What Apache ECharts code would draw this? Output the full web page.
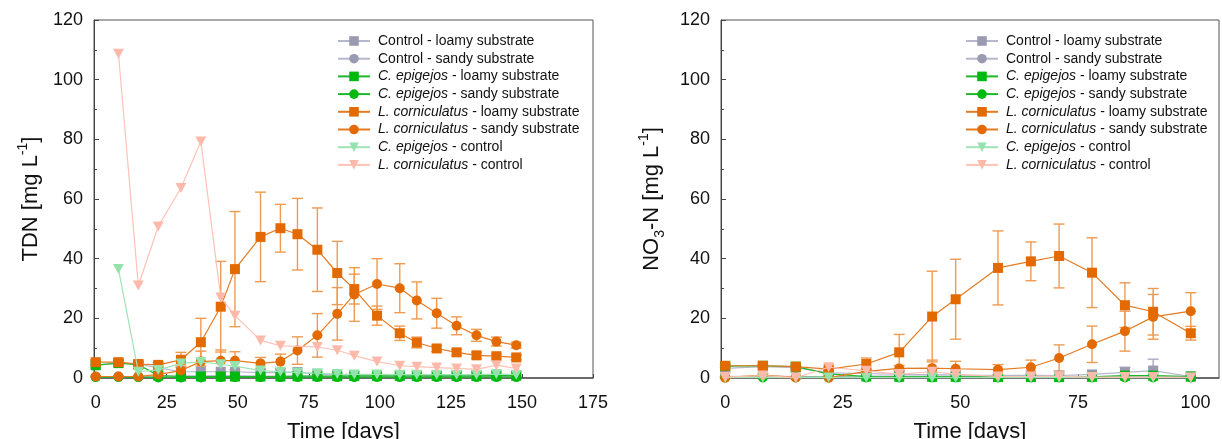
<!DOCTYPE html>
<html>
<head>
<meta charset="utf-8">
<script src="https://cdn.jsdelivr.net/npm/echarts@6/dist/echarts.min.js"></script>
<style>
html,body{margin:0;padding:0;background:#fff;}
#c{width:1222px;height:439px;}
</style>
</head>
<body>
<div id="c"></div>
<script>
// ---------- DATA ----------
const seriesNames = [
  'Control - loamy substrate',
  'Control - sandy substrate',
  'C. epigejos - loamy substrate',
  'C. epigejos - sandy substrate',
  'L. corniculatus - loamy substrate',
  'L. corniculatus - sandy substrate',
  'C. epigejos - control',
  'L. corniculatus - control'
];
const xTicksTDN = [0, 25, 50, 75, 100, 125, 150, 175];
const xTicksNO3 = [0, 25, 50, 75, 100];
const yTicks = [0, 20, 40, 60, 80, 100, 120];

// TDN (left panel)
const daysTDN = [0, 8, 15, 22, 30, 37, 44, 49, 58, 65, 71, 78, 85, 91, 99, 107, 113, 120, 127, 134, 141, 148];
const tdnCtrlLoamy = [4.3, 5.0, 4.6, 3.5, 2.1, 2.1, 2.1, 2.1, 1.8, 1.8, 2.0, 1.3, 1.1, 1.0, 1.0, 1.0, 0.9, 0.9, 0.9, 0.9, 1.0, 0.9];
const tdnCtrlSandy = [0.4, 0.5, 0.5, 0.6, 0.7, 0.7, 0.8, 0.8, 0.6, 0.6, 0.6, 0.6, 0.5, 0.5, 0.5, 0.5, 0.5, 0.5, 0.5, 0.5, 0.5, 0.5];
const tdnCepLoamy = [4.3, 5.0, 4.5, 0.8, 0.5, 0.5, 0.5, 0.5, 0.5, 0.5, 0.6, 0.6, 0.6, 0.7, 0.7, 0.7, 0.7, 0.7, 0.7, 0.7, 0.8, 0.8];
const tdnCepSandy = [0.3, 0.3, 0.3, 0.2, 0.2, 0.2, 0.3, 0.3, 0.3, 0.3, 0.3, 0.3, 0.3, 0.3, 0.3, 0.3, 0.3, 0.3, 0.3, 0.3, 0.3, 0.3];
const tdnLcLoamy = [5.3, 5.3, 4.7, 4.4, 6.1, 12.0, 23.9, 36.5, 47.3, 50.2, 48.2, 43.0, 35.2, 29.8, 20.9, 15.0, 11.9, 9.9, 8.6, 7.6, 7.3, 6.9];
const tdnLcLoamyErr = [0.8, 0.5, 0.6, 0.8, 2.5, 8.0, 15.2, 19.3, 15.0, 8.0, 12.0, 14.0, 10.6, 5.0, 3.2, 2.4, 1.8, 1.0, 1.0, 1.0, 0.8, 0.8];
const tdnLcSandy = [0.5, 0.5, 0.5, 1.2, 2.5, 5.5, 5.8, 5.8, 4.9, 5.5, 9.2, 14.3, 21.5, 28.0, 31.5, 30.1, 26.0, 21.7, 17.5, 14.3, 12.2, 11.0];
const tdnLcSandyErr = [0.2, 0.2, 0.2, 0.5, 1.5, 3.5, 3.6, 3.0, 2.0, 2.5, 4.6, 7.3, 8.8, 9.0, 8.5, 8.2, 6.2, 5.0, 3.0, 2.0, 1.5, 1.0];
const tdnCepControl = [null, 36.5, 2.1, 2.7, 4.9, 5.4, 4.6, 4.0, 2.5, 2.1, 1.8, 1.6, 1.3, 1.2, 1.2, 1.1, 1.1, 1.1, 1.1, 1.1, 1.3, 1.1];
const tdnLcControl = [null, 108.7, 31.0, 50.8, 63.7, 79.3, 27.0, 20.9, 12.6, 10.8, null, 10.4, 9.3, 7.5, 5.5, 4.1, 3.8, 3.5, 3.2, 2.9, 4.3, 3.2];

// NO3-N (right panel)
const daysNO3 = [0, 8, 15, 22, 30, 37, 44, 49, 58, 65, 71, 78, 85, 91, 99];
const no3CtrlLoamy = [3.2, 3.8, 3.5, 1.7, 1.5, 1.2, 1.1, 1.0, 0.9, 0.9, 0.8, 1.2, 1.9, 2.5, 0.5];
const no3CtrlLoamyErr = [0, 0, 0, 0, 0, 0, 0, 0, 0, 0, 0, 0, 1.7, 3.8, 0];
const no3CtrlSandy = [0.5, 0.6, 0.5, 0.5, 0.6, 0.6, 0.6, 0.6, 0.5, 0.5, 0.5, 0.5, 0.6, 0.6, 0.5];
const no3CepLoamy = [4.0, 4.1, 3.8, 1.4, 0.5, 0.4, 0.4, 0.4, 0.3, 0.3, 0.3, 0.4, 0.8, 0.8, 0.5];
const no3CepSandy = [0.2, 0.2, 0.2, 0.2, 0.2, 0.2, 0.2, 0.2, 0.2, 0.2, 0.2, 0.2, 0.2, 0.2, 0.2];
const no3LcLoamy = [4.1, 4.1, 3.8, 3.0, 4.7, 8.6, 20.6, 26.4, 36.9, 39.1, 40.9, 35.3, 24.4, 22.2, 15.0];
const no3LcLoamyErr = [0.5, 0.4, 0.4, 0.5, 2.0, 6.0, 15.2, 13.4, 12.4, 6.5, 10.7, 11.7, 7.5, 7.8, 2.3];
const no3LcSandy = [0.1, 1.0, 0.2, 0.1, 2.2, 3.2, 3.3, 3.1, 2.8, 3.6, 6.7, 11.3, 15.7, 20.5, 22.4];
const no3LcSandyErr = [0.2, 0.5, 0.2, 0.2, 0.8, 1.0, 2.7, 2.5, 1.7, 2.4, 4.4, 6.1, 6.7, 7.5, 6.2];
const no3CepControl = [0.1, 0.1, 0.1, 0.2, 0.1, 0.1, 0.1, 0.1, 0.1, 0.1, 0.1, 0.1, 0.1, 0.1, 0.1];
const no3LcControl = [0.3, 0.8, 0.1, 3.6, 2.4, 1.3, 2.1, 1.3, 0.5, 0.5, 0.6, 0.3, 0.3, 0.3, 0.2];

// ---------- STYLE ----------
const FONT = 'Liberation Sans, Arial, sans-serif';
const styles = [
  {sym: 'rect', mark: '#9a9ab2', line: '#b6b6cc'},
  {sym: 'circle', mark: '#9a9ab2', line: '#b6b6cc'},
  {sym: 'rect', mark: '#00b90f', line: '#1fb72a'},
  {sym: 'circle', mark: '#00b90f', line: '#1fb72a'},
  {sym: 'rect', mark: '#e36a00', line: '#e57a20'},
  {sym: 'circle', mark: '#e36a00', line: '#e57a20'},
  {sym: 'path://M0,0 L10,0 L5,9 Z', mark: '#94e2ad', line: '#9fe4b4'},
  {sym: 'path://M0,0 L10,0 L5,9 Z', mark: '#ffb9aa', line: '#ffc2b5'}
];

function pairs(days, vals) {
  return days.map((d, i) => [d, vals[i]]);
}
function errData(days, vals, errs) {
  const out = [];
  days.forEach((d, i) => {
    if (vals[i] == null || !errs[i]) return;
    out.push([d, Math.max(0, vals[i] - errs[i]), vals[i] + errs[i]]);
  });
  return out;
}
function errSeries(idx, days, vals, errs, color) {
  return {
    type: 'custom', xAxisIndex: idx, yAxisIndex: idx, silent: true, z: 2,
    encode: {x: 0, y: [1, 2]},
    data: errData(days, vals, errs),
    renderItem: function (params, api) {
      const x = api.value(0), lo = api.value(1), hi = api.value(2);
      const p1 = api.coord([x, hi]), p2 = api.coord([x, lo]);
      const w = 5.5;
      const st = {stroke: color, lineWidth: 1.4};
      return {type: 'group', children: [
        {type: 'line', shape: {x1: p1[0], y1: p1[1], x2: p2[0], y2: p2[1]}, style: st},
        {type: 'line', shape: {x1: p1[0] - w, y1: p1[1], x2: p1[0] + w, y2: p1[1]}, style: st},
        {type: 'line', shape: {x1: p2[0] - w, y1: p2[1], x2: p2[0] + w, y2: p2[1]}, style: st}
      ]};
    }
  };
}
function lineSeries(idx, k, days, vals) {
  const s = styles[k];
  return {
    name: seriesNames[k], type: 'line', xAxisIndex: idx, yAxisIndex: idx,
    data: pairs(days, vals), connectNulls: true,
    symbol: s.sym, symbolSize: k >= 6 ? [11, 10] : 10, showAllSymbol: true,
    lineStyle: {color: s.line, width: 1.2},
    itemStyle: {color: s.mark},
    z: 3 + k * 0.1,
    animation: false
  };
}

const tdnSets = [tdnCtrlLoamy, tdnCtrlSandy, tdnCepLoamy, tdnCepSandy, tdnLcLoamy, tdnLcSandy, tdnCepControl, tdnLcControl];
const no3Sets = [no3CtrlLoamy, no3CtrlSandy, no3CepLoamy, no3CepSandy, no3LcLoamy, no3LcSandy, no3CepControl, no3LcControl];

const series = [];
series.push(errSeries(0, daysTDN, tdnLcLoamy, tdnLcLoamyErr, '#f09a50'));
series.push(errSeries(0, daysTDN, tdnLcSandy, tdnLcSandyErr, '#f09a50'));
series.push(errSeries(1, daysNO3, no3CtrlLoamy, no3CtrlLoamyErr, '#a9a9c2'));
series.push(errSeries(1, daysNO3, no3LcLoamy, no3LcLoamyErr, '#f09a50'));
series.push(errSeries(1, daysNO3, no3LcSandy, no3LcSandyErr, '#f09a50'));
tdnSets.forEach((v, k) => series.push(lineSeries(0, k, daysTDN, v)));
no3Sets.forEach((v, k) => series.push(lineSeries(1, k, daysNO3, v)));

function legend(left) {
  return {
    orient: 'vertical', left: left, top: 34, padding: 0,
    itemWidth: 32, itemHeight: 12, itemGap: 3.7,
    data: seriesNames, selectedMode: false,
    formatter: n => n.replace(/^(C\. epigejos|L\. corniculatus)/, '{i|$1}'),
    textStyle: {fontFamily: FONT, fontSize: 14, color: '#111', lineHeight: 12, padding: [0, 0, 0, 3],
      rich: {i: {fontFamily: FONT, fontSize: 14, fontStyle: 'italic', color: '#111', lineHeight: 12}}}
  };
}

function xAxis(idx, min, max, ticks) {
  return {
    type: 'value', gridIndex: idx, min: min, max: max,
    name: 'Time [days]', nameLocation: 'middle', nameGap: 43,
    nameTextStyle: {fontFamily: FONT, fontSize: 22, color: '#111'},
    axisLine: {show: true, onZero: false, lineStyle: {color: '#555', width: 1.5}},
    axisTick: {show: true, inside: true, length: 4, customValues: ticks, lineStyle: {color: '#444'}},
    axisLabel: {customValues: ticks, fontFamily: FONT, fontSize: 18, color: '#111', margin: 16},
    splitLine: {show: false}
  };
}
function yAxis(idx, nameText, gap) {
  return {
    type: 'value', gridIndex: idx, min: 0, max: 120, interval: 20,
    name: nameText, nameLocation: 'middle', nameGap: gap, nameRotate: 90,
    nameTextStyle: {fontFamily: FONT, fontSize: 22, color: '#111', lineHeight: 30,
      rich: {
        sup: {fontFamily: FONT, fontSize: 14, lineHeight: 14, verticalAlign: 'top', color: '#111'},
        sub: {fontFamily: FONT, fontSize: 14, lineHeight: 14, verticalAlign: 'bottom', color: '#111'}
      }},
    axisLine: {show: true, onZero: false, lineStyle: {color: '#444', width: 1}},
    axisTick: {show: true, inside: true, length: 5, lineStyle: {color: '#444'}},
    minorTick: {show: true, splitNumber: 2, length: 3, lineStyle: {color: '#444'}},
    axisLabel: {fontFamily: FONT, fontSize: 18, color: '#111', margin: 11},
    splitLine: {show: false}
  };
}

const chart = echarts.init(document.getElementById('c'), null, {renderer: 'canvas'});
chart.setOption({
  animation: false,
  backgroundColor: '#fff',
  grid: [
    {left: 94, top: 20, width: 499, height: 358, show: true, borderColor: '#555', borderWidth: 1, backgroundColor: 'transparent', outerBoundsMode: 'none', containLabel: false},
    {left: 721, top: 20, width: 498, height: 358, show: true, borderColor: '#555', borderWidth: 1, backgroundColor: 'transparent', outerBoundsMode: 'none', containLabel: false}
  ],
  legend: [legend(337), legend(965)],
  xAxis: [xAxis(0, -0.6, 175, xTicksTDN), xAxis(1, -0.9, 105, xTicksNO3)],
  yAxis: [yAxis(0, 'TDN [mg L{sup|-1}]', 48), yAxis(1, 'NO{sub|3}-N [mg L{sup|-1}]', 54)],
  series: series
});
</script>
</body>
</html>
